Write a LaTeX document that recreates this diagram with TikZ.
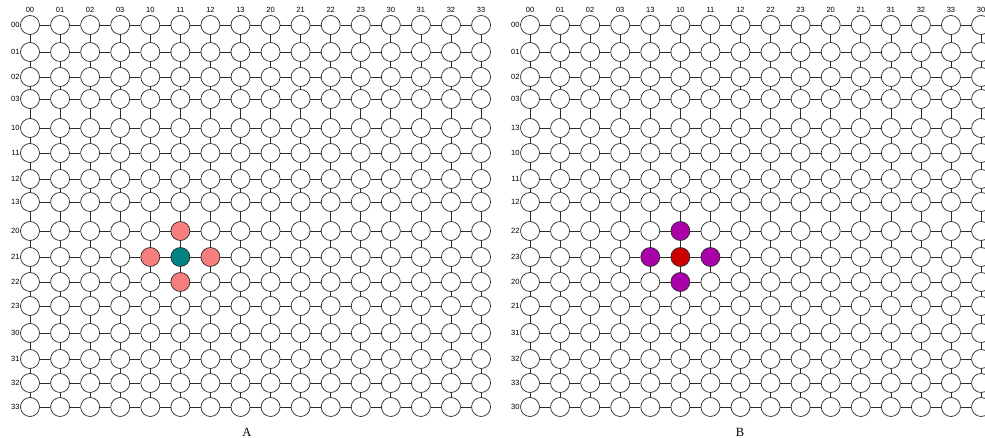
\documentclass[tikz,border=0pt]{standalone}
\usepackage{fontspec}
\setmainfont{Liberation Serif}
\newfontfamily\gridfont{Liberation Sans}
\usepackage{tikz}
\usetikzlibrary{
  positioning,
  calc
}
\definecolor{gdLine}{HTML}{2A2A2A}
\definecolor{gdHubA}{HTML}{008282}
\definecolor{gdNbrA}{HTML}{F67E7E}
\definecolor{gdHubB}{HTML}{CC0000}
\definecolor{gdNbrB}{HTML}{AA00AA}
\tikzset{
  cell/.style={
    draw=gdLine, circle, fill=white, line width=0.7pt,
    minimum size=19pt, inner sep=0pt
  },
  hubA/.style={cell, fill=gdHubA},
  nbrA/.style={cell, fill=gdNbrA},
  hubB/.style={cell, fill=gdHubB},
  nbrB/.style={cell, fill=gdNbrB},
  link/.style={gdLine, line width=0.7pt},
  lbl/.style={font=\gridfont\fontsize{7.5}{8}\selectfont, inner sep=0.5pt},
  caption/.style={font=\fontsize{12.5}{14}\selectfont, inner sep=0pt},
  % highlighted cells, looked up per node with /.try
  a-8-5/.style={nbrA}, a-9-4/.style={nbrA}, a-9-5/.style={hubA},
  a-9-6/.style={nbrA}, a-10-5/.style={nbrA},
  b-8-5/.style={nbrB}, b-9-4/.style={nbrB}, b-9-5/.style={hubB},
  b-9-6/.style={nbrB}, b-10-5/.style={nbrB}
}

\begin{document}
\begin{tikzpicture}[x=1pt, y=-1pt]
  \clip (0,0) rectangle (985,438);
  \fill[white] (0,0) rectangle (985,438);

  \foreach \p/\dx/\lst in {
    a/0/{00,01,02,03,10,11,12,13,20,21,22,23,30,31,32,33},
    b/500/{00,01,02,03,13,10,11,12,22,23,20,21,31,32,33,30}}{
    % cells
    \foreach \y [count=\r from 0] in {25,52,77,99,128,153,179,202,231,257,282,306,333,359,383,407}{
      \foreach \c in {0,...,15}{
        \node[cell, \p-\r-\c/.try] (\p-\r-\c) at ({\dx+30+30.07*\c},\y) {};
      }
    }
    % links
    \foreach \r in {0,...,15}{
      \foreach \c [evaluate=\c as \n using int(\c+1)] in {0,...,14}{
        \draw[link] (\p-\r-\c) -- (\p-\r-\n);
        \draw[link] (\p-\c-\r) -- (\p-\n-\r);
      }
    }
    % row and column labels
    \foreach \t [count=\i from 0] in \lst{
      \node[lbl, above=1.5pt of \p-0-\i] (\p-col-\i) {\t};
      \node[lbl, left=0pt of \p-\i-0] (\p-row-\i) {\t};
    }
  }

  \node[caption] (capA) at (247,432) {A};
  \node[caption] (capB) at (740,432) {B};
\end{tikzpicture}
\end{document}
